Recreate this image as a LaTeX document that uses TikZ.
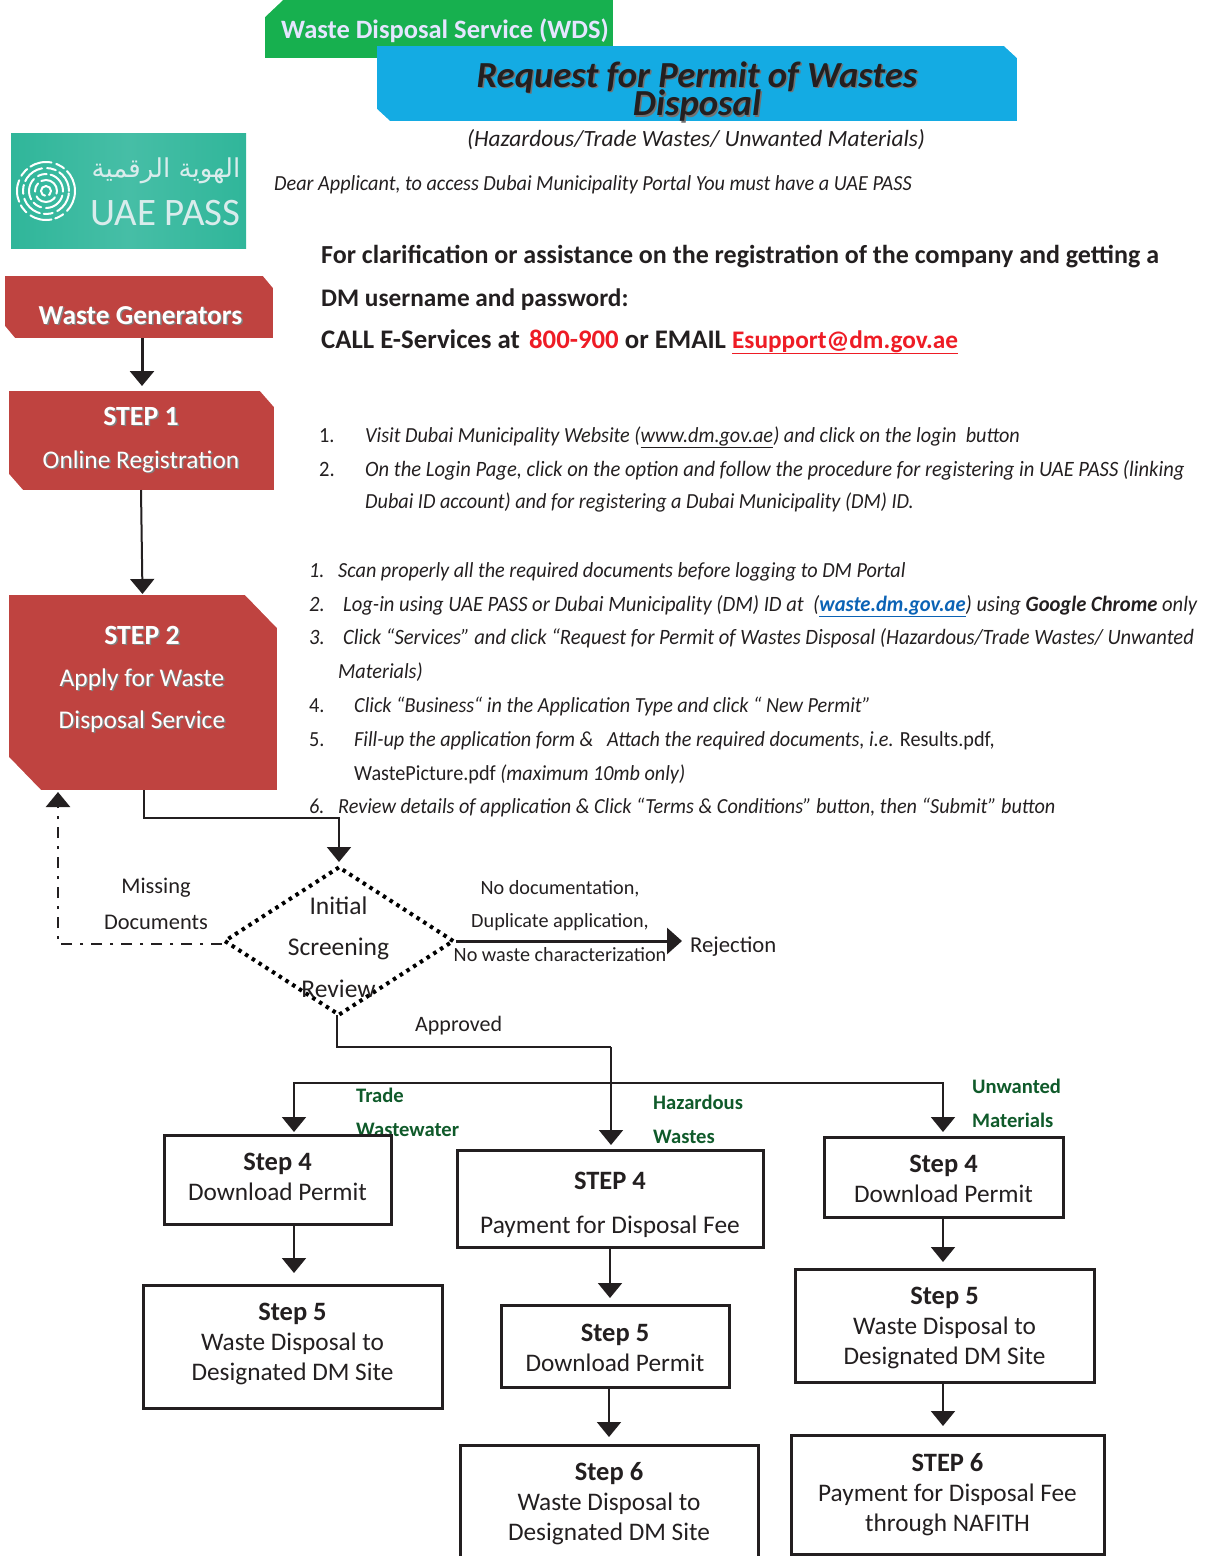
\documentclass[tikz,border=0pt]{standalone}
\usepackage{fontspec}
\setmainfont{Carlito}
\newfontfamily\narrowfont[FakeStretch=0.94]{Carlito}
\newfontfamily\arabicfont[Script=Arabic]{DejaVu Sans}
\TeXXeTstate=1
\usepackage{xcolor}
\usetikzlibrary{arrows.meta, positioning, shapes.geometric}
\definecolor{wdsgreen}{HTML}{17B04F}
\definecolor{wdsblue}{HTML}{14ABE3}
\definecolor{wdsred}{HTML}{BF4340}
\definecolor{inkblack}{HTML}{231F20}
\definecolor{labelgreen}{HTML}{0F5A2A}
\definecolor{linkblue}{HTML}{0B63B5}
\definecolor{mailred}{HTML}{EE1C25}
\definecolor{logoedge}{HTML}{30B69A}
\definecolor{logomid}{HTML}{46BEA6}
\newcommand{\fs}[2]{\fontsize{#1}{#2}\selectfont}
\newcommand{\shadowed}[2]{\leavevmode\rlap{\raisebox{-1.5pt}{\hspace{1.5pt}\textcolor{#1}{#2}}}#2}
\newcommand{\mvtext}[2]{\raisebox{\dimexpr#1-0.25em\relax}[0pt][0pt]{\begin{tabular}{@{}c@{}}#2\end{tabular}}}
\tikzset{
    cutdiag/.style 2 args={path picture={
        \fill [white] (path picture bounding box.north east) -- ++(-#1,0pt) -- ++(#1,-#2) -- cycle;
        \fill [white] (path picture bounding box.south west) -- ++(#1,0pt) -- ++(-#1,#2) -- cycle;
    }},
    cutnw/.style 2 args={path picture={
        \fill [white] (path picture bounding box.north west) -- ++(#1,0pt) -- ++(-#1,-#2) -- cycle;
    }},
}
\tikzstyle{banner} = [rectangle, draw=none, inner sep=0pt, text centered, align=center]
\tikzstyle{redbox} = [banner, fill=wdsred, text=white]
\tikzstyle{redtxt} = [inner sep=0pt, align=center, text=white]
\tikzstyle{stepbox} = [rectangle, draw=inkblack, line width=3pt, inner sep=0pt, align=center, text=inkblack, font=\fs{25.3}{30}]
\tikzstyle{plaintxt} = [inner sep=0pt, text=inkblack, anchor=base west, font=\narrowfont\fs{21.5}{26}]
\tikzstyle{listtxt} = [plaintxt, font=\narrowfont\fs{21.5}{26}\itshape]
\tikzstyle{leadtxt} = [plaintxt, font=\fs{26}{31}\bfseries]
\tikzstyle{flowtxt} = [inner sep=0pt, text=inkblack, align=center, font=\fs{22.7}{36}]
\tikzstyle{branchtxt} = [inner sep=0pt, text=labelgreen, anchor=west, align=left, font=\fs{20.6}{34}\bfseries]
\tikzstyle{arrow} = [line width=2pt, draw=inkblack, -{Triangle[length=15pt,width=24pt]}]
\tikzstyle{wire} = [line width=2pt, draw=inkblack]
\newcommand{\stp}[1]{{\fs{26.5}{30}\bfseries #1}}

\begin{document}
\begin{tikzpicture}[x=1pt,y=-1pt]
        \useasboundingbox (0,0) rectangle (1216,1556);

        % Header
        \node (wds) [banner, fill=wdsgreen, minimum width=348pt, minimum height=58pt, cutnw={18pt}{17pt}] at (439,29) {};
        \node (wdstxt) [inner sep=0pt, anchor=west, text=white!90!blue, font=\fs{26.5}{30}\bfseries] at (281,30.5) {Waste Disposal Service (WDS)};
        \node (permit) [banner, fill=wdsblue, minimum width=640pt, minimum height=75pt, cutdiag={13pt}{12pt}, text=inkblack, font=\fs{36.7}{29.5}\bfseries\itshape] at (697,83.5) {\mvtext{-6.5pt}{\shadowed{black!55}{Request for Permit of Wastes}\\[-6pt]\shadowed{black!55}{Disposal}}};
        \node (subtitle) [inner sep=0pt, text=inkblack, font=\fs{23.3}{28}\itshape] at (696,140) {(Hazardous/Trade Wastes/ Unwanted Materials)};
        \node (dear) [listtxt] at (274,190) {Dear Applicant, to access Dubai Municipality Portal You must have a UAE PASS};

        % UAE PASS logo
        \shade [left color=logoedge, right color=logoedge, middle color=logomid] (11,133) rectangle (246,248);
        \foreach \rad in {5,11,17,23,29}
            \draw [white, line width=2pt, dash pattern=on 22pt off 4pt on 9pt off 5pt, line cap=round] (46,191) circle [radius=\rad pt];
        \node (logoar) [inner sep=0pt, text=white!85!teal, font=\fs{26}{28}] at (166,171) {\arabicfont\beginR الهوية الرقمية\endR};
        \node (logoen) [inner sep=0pt, text=white!85!teal, font=\fs{38.9}{40}] at (165.5,213) {UAE PASS};

        % Contact
        \node (call1) [leadtxt] at (321,263) {For clarification or assistance on the registration of the company and getting a};
        \node (call2) [leadtxt, font=\fs{25.3}{31}\bfseries] at (321,306) {DM username and password:};
        \node (call3) [leadtxt, font=\fs{26.8}{31}\bfseries] at (321,348) {CALL E-Services at\hspace{3pt} \textcolor{mailred}{800-900} or EMAIL \textcolor{mailred}{\fs{25.3}{31}\underline{Esupport@dm.gov.ae}}};

        % Red steps
        \node (gen) [redbox, minimum width=268pt, minimum height=62pt, cutdiag={10pt}{12pt}] at (139,307) {};
        \node (gentxt) [redtxt, font=\fs{27.4}{30}\bfseries] at (140.5,316) {\shadowed{black!50}{Waste Generators}};
        \node (step1) [redbox, minimum width=265pt, minimum height=99pt, cutdiag={14pt}{16pt}] at (141.5,440.5) {};
        \node (step1txt) [redtxt, font=\fs{25.4}{43}] at (141,440.5) {{\fs{27.8}{43}\bfseries\shadowed{black!50}{STEP 1}}\\\shadowed{black!50}{Online Registration}};
        \node (step2) [redbox, minimum width=268pt, minimum height=195pt, cutdiag={32pt}{33pt}] at (143,692.5) {};
        \node (step2txt) [redtxt, font=\fs{25.5}{42}] at (142,680) {{\fs{27.8}{42}\bfseries\shadowed{black!50}{STEP 2}}\\\shadowed{black!50}{Apply for Waste}\\\shadowed{black!50}{Disposal Service}};

        % Instructions
        \node (vis1) [plaintxt] at (319,442) {\makebox[46pt][l]{1.}\textit{Visit Dubai Municipality Website (\underline{www.dm.gov.ae}) and click on the login\ \ button}};
        \node (vis2) [plaintxt, font=\narrowfont\fs{21.9}{26}] at (319,476) {\makebox[46pt][l]{2.}\textit{On the Login Page, click on the option and follow the procedure for registering in UAE PASS (linking}};
        \node (vis3) [listtxt] at (365,508) {Dubai ID account) and for registering a Dubai Municipality (DM) ID.};
        \node (app1) [listtxt] at (309,577) {\makebox[29pt][l]{1.}Scan properly all the required documents before logging to DM Portal};
        \node (app2) [listtxt, font=\narrowfont\fs{21.9}{26}\itshape] at (309,611) {\makebox[34pt][l]{2.}Log-in using UAE PASS or Dubai Municipality (DM) ID at\ \ (\textcolor{linkblue}{\underline{\textbf{waste.dm.gov.ae}}}) using \textbf{Google Chrome} only};
        \node (app3) [listtxt, font=\narrowfont\fs{21.9}{26}\itshape] at (309,644) {\makebox[34pt][l]{3.}Click “Services” and click “Request for Permit of Wastes Disposal (Hazardous/Trade Wastes/ Unwanted};
        \node (app3b) [listtxt] at (338,678) {Materials)};
        \node (app4) [plaintxt] at (309,712) {\makebox[45pt][l]{4.}\textit{Click “Business“ in the Application Type and click “ New Permit”}};
        \node (app5) [plaintxt] at (309,746) {\makebox[45pt][l]{5.}\textit{Fill-up the application form \&\ \ \ Attach the required documents, i.e.} Results.pdf,};
        \node (app5b) [plaintxt] at (354,780) {WastePicture.pdf \textit{(maximum 10mb only)}};
        \node (app6) [listtxt] at (309,813) {\makebox[29pt][l]{6.}Review details of application \& Click “Terms \& Conditions” button, then “Submit” button};

        % Screening
        \node (screen) [diamond, draw=black, line width=4pt, dash pattern=on 3.5pt off 4.5pt, minimum width=230pt, minimum height=149pt, inner sep=0pt] at (339,941) {};
        \node (screentxt) [flowtxt, font=\fs{25.5}{41.5}] at (338.5,947) {Initial\\Screening\\Review};
        \node (missing) [flowtxt, font=\fs{22.4}{36}] at (156,904) {Missing\\Documents};
        \node (reasons) [flowtxt, font=\fs{20.2}{33.5}] at (560,921) {No documentation,\\Duplicate application,\\No waste characterization};
        \node (reject) [flowtxt, anchor=west] at (690,947) {Rejection};
        \node (approved) [flowtxt, anchor=west, font=\fs{22}{26}] at (415,1026) {Approved};
        \node (tradetxt) [branchtxt] at (356,1112) {Trade\\Wastewater};
        \node (haztxt) [branchtxt] at (653,1119) {Hazardous\\Wastes};
        \node (unwtxt) [branchtxt] at (972,1103) {Unwanted\\Materials};

        % Trade column
        \node (t4) [stepbox, minimum width=227pt, minimum height=89pt] at (277.5,1179.5) {\mvtext{0.5pt}{\stp{Step 4}\\Download Permit}};
        \node (t5) [stepbox, minimum width=299pt, minimum height=123pt] at (292.5,1346.5) {\mvtext{2.5pt}{\stp{Step 5}\\Waste Disposal to\\Designated DM Site}};
        % Hazardous column
        \node (h4) [stepbox, minimum width=306pt, minimum height=97pt, font=\fs{25.4}{44}] at (610,1198.5) {\mvtext{-4.5pt}{{\fs{26.5}{44}\bfseries STEP 4}\\Payment for Disposal Fee}};
        \node (h5) [stepbox, minimum width=228pt, minimum height=82pt] at (615,1346) {\mvtext{-4pt}{\stp{Step 5}\\Download Permit}};
        \node (h6) [stepbox, minimum width=298pt, minimum height=136pt, anchor=north] at (609,1444) {\mvtext{9pt}{\stp{Step 6}\\Waste Disposal to\\Designated DM Site}};
        % Unwanted column
        \node (u4) [stepbox, minimum width=239pt, minimum height=80pt] at (943.5,1177) {\mvtext{-4pt}{\stp{Step 4}\\Download Permit}};
        \node (u5) [stepbox, minimum width=299pt, minimum height=113pt] at (944.5,1325.5) {\mvtext{-3pt}{\stp{Step 5}\\Waste Disposal to\\Designated DM Site}};
        \node (u6) [stepbox, minimum width=313pt, minimum height=119pt] at (947.5,1494.5) {\stp{STEP 6}\\Payment for Disposal Fee\\through NAFITH};

        % Junctions
        \coordinate (forkmid) at (611,1083);
        \coordinate (turnout) at (144,818);
        \coordinate (turnin) at (339,818);
        \coordinate (backin) at (222,944);
        \coordinate (backa) at (58,944);
        \coordinate (approvedturn) at (337,1047);
        \coordinate (approvedtop) at (611,1047);

        % Arrows
        \draw [arrow, line width=3pt] (142,338) -- (142,386);
        \draw [arrow] (141,490) -- (142.5,594);
        \draw [arrow] (turnout |- step2.south) -- (turnout) -- (turnin) -- (339,862);
        \draw [arrow, line width=2.5pt, dash pattern=on 11pt off 8pt on 3pt off 8pt] (backin) -- (backa) -- (58,792);
        \draw [arrow, line width=3pt, -{Triangle[length=15pt,width=26pt]}] (screen.east) -- (682,941);
        \draw [wire] (337,1015) -- (approvedturn) -- (approvedtop);
        \draw [arrow] (approvedtop) -- (611,1145);
        \draw [arrow] (forkmid) -- (294,1083) -- (294,1132);
        \draw [arrow] (forkmid) -- (943,1083) -- (943,1132);
        \draw [arrow] (294,1224) -- (294,1273);
        \draw [arrow] (610,1247) -- (610,1298);
        \draw [arrow] (609,1387) -- (609,1437);
        \draw [arrow] (943,1217) -- (943,1262);
        \draw [arrow] (943,1382) -- (943,1426);

\end{tikzpicture}
\end{document}
